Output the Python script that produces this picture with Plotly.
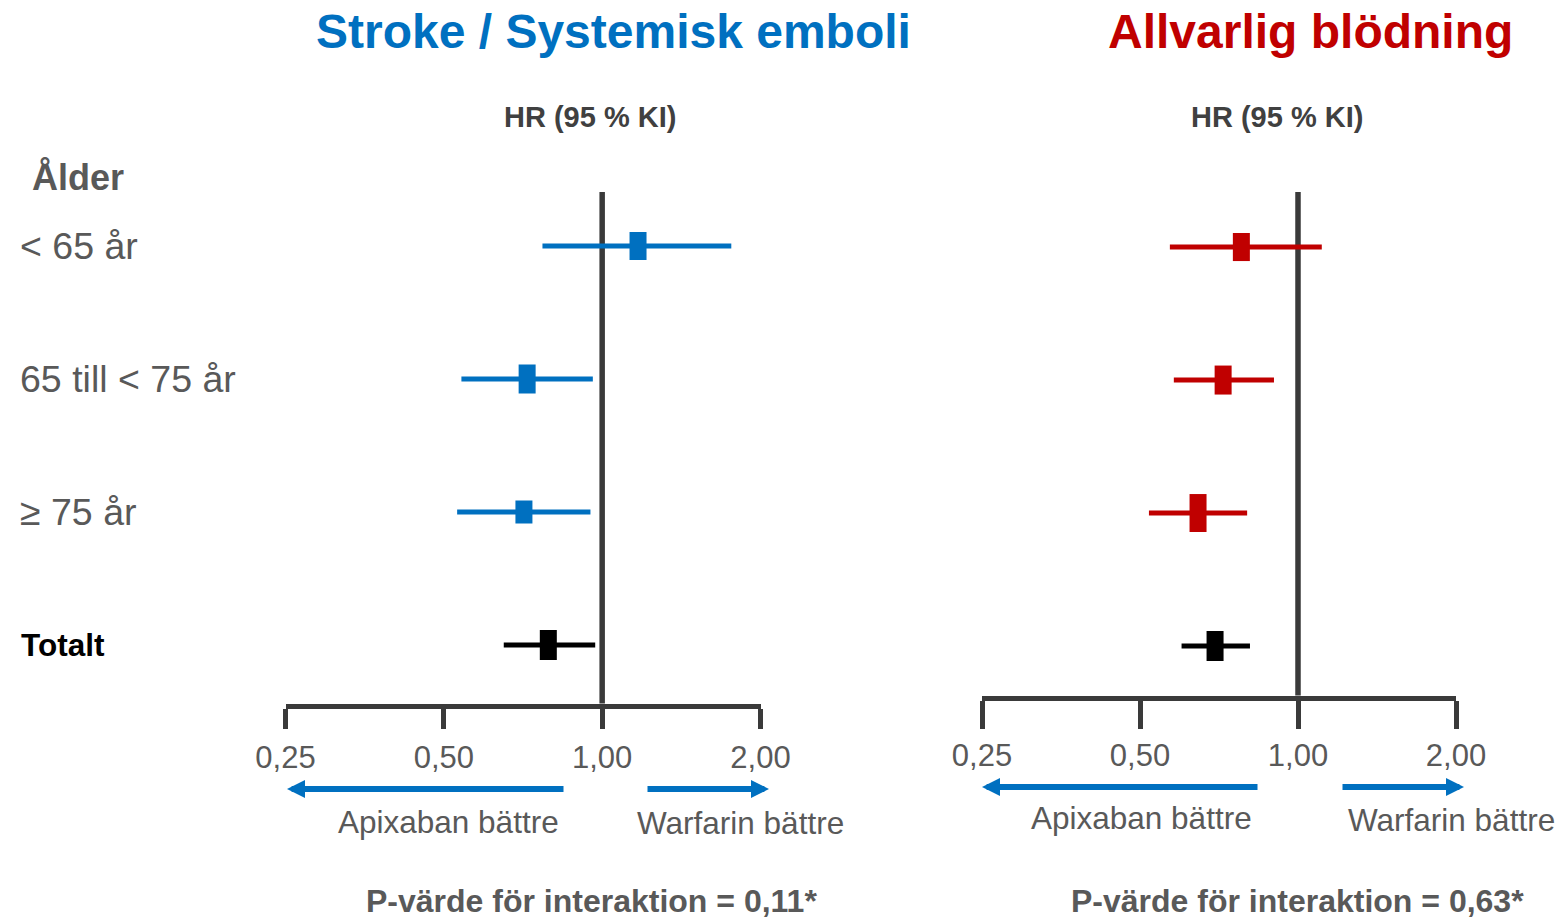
import plotly.graph_objects as go
import math

# ---------------- data ----------------
rows = ["< 65 år", "65 till < 75 år", "≥ 75 år", "Totalt"]
row_idx = [3, 2, 1, 0]

stroke_hr = [1.17, 0.72, 0.71, 0.79]
stroke_lo = [0.77, 0.54, 0.53, 0.65]
stroke_hi = [1.76, 0.96, 0.95, 0.97]

bleed_hr = [0.78, 0.72, 0.645, 0.695]
bleed_lo = [0.57, 0.58, 0.52, 0.60]
bleed_hi = [1.11, 0.90, 0.80, 0.81]

tick_vals = [0.25, 0.5, 1.0, 2.0]
tick_text = ["0,25", "0,50", "1,00", "2,00"]

titles = ["Stroke / Systemisk emboli", "Allvarlig blödning"]
pvalues = ["P-värde för interaktion = 0,11*", "P-värde för interaktion = 0,63*"]

# ---------------- styles ----------------
W, H = 1562, 919
FONT = "Arial, Liberation Sans, sans-serif"
BLUE = "#0070C0"
RED = "#C00000"
AXC = "#3a3a3a"
GRAY = "#595959"
left_colors = [BLUE, BLUE, BLUE, "#000000"]
right_colors = [RED, RED, RED, "#000000"]
left_heights = [28, 29, 23, 30]
right_heights = [28, 29, 38, 30]
MARK_W = 17


def px(x):
    return x / W


def py(y):
    return 1 - y / H


fig = go.Figure()


def add_panel(hr, lo, hi, colors, heights, xa, ya):
    # CI lines
    for i in range(len(rows)):
        fig.add_trace(go.Scatter(
            x=[lo[i], hi[i]], y=[row_idx[i], row_idx[i]], mode="lines",
            line=dict(color=colors[i], width=5), xaxis=xa, yaxis=ya,
            showlegend=False, hoverinfo="skip"))
    # point estimates (rectangles)
    for i in range(len(rows)):
        fig.add_trace(go.Scatter(
            x=[hr[i]], y=[row_idx[i]], mode="markers",
            marker=dict(symbol="line-ns", size=heights[i] / 1.4,
                        line=dict(color=colors[i], width=MARK_W), color=colors[i]),
            xaxis=xa, yaxis=ya, showlegend=False,
            hovertext=f"{rows[i]}: {hr[i]} ({lo[i]}–{hi[i]})", hoverinfo="text"))


add_panel(stroke_hr, stroke_lo, stroke_hi, left_colors, left_heights, "x", "y")
add_panel(bleed_hr, bleed_lo, bleed_hi, right_colors, right_heights, "x2", "y2")

xcommon = dict(type="log", range=[math.log10(0.25), math.log10(2.0)],
               tickvals=tick_vals, ticktext=tick_text,
               showline=True, linewidth=5, linecolor=AXC,
               ticks="outside", tickwidth=5, tickcolor=AXC,
               tickfont=dict(family=FONT, size=31, color=GRAY),
               showgrid=False, zeroline=False, fixedrange=True, automargin=False)
ycommon = dict(showgrid=False, zeroline=False, showticklabels=False,
               showline=False, fixedrange=True, automargin=False)

fig.update_layout(
    width=W, height=H,
    margin=dict(l=0, r=0, t=0, b=0, autoexpand=False),
    paper_bgcolor="white", plot_bgcolor="rgba(0,0,0,0)",
    font=dict(family=FONT, color=GRAY),
    showlegend=False,
    xaxis=dict(domain=[px(285.5), px(760.5)], anchor="y", ticklen=20, ticklabelstandoff=2, **xcommon),
    yaxis=dict(domain=[py(703.5), py(192)], range=[-0.44, 3.406], anchor="x", **ycommon),
    xaxis2=dict(domain=[px(982), px(1456)], anchor="y2", ticklen=28, ticklabelstandoff=0, **xcommon),
    yaxis2=dict(domain=[py(695.5), py(192)], range=[-0.372, 3.414], anchor="x2", **ycommon),
)

# reference lines at HR = 1
for xr, yr in [("x", "y domain"), ("x2", "y2 domain")]:
    fig.add_shape(type="line", xref=xr, yref=yr, x0=1, x1=1, y0=0, y1=1,
                  line=dict(color=AXC, width=5.5), layer="below")

ann = []


def text(x, y, s, size, color=GRAY, bold=False, xanchor="center", xref="paper", yref="paper"):
    ann.append(dict(x=x, y=y, xref=xref, yref=yref, text=f"<b>{s}</b>" if bold else s,
                    showarrow=False, xanchor=xanchor, yanchor="middle",
                    font=dict(family=FONT, size=size, color=color)))


text(px(613), py(31), titles[0], 48, BLUE, True)
text(px(1310), py(31), titles[1], 48, RED, True)
text(px(590), py(117), "HR (95 % KI)", 29, "#404040", True)
text(px(1277), py(117), "HR (95 % KI)", 29, "#404040", True)
text(px(30), py(177), "Ålder", 36, GRAY, True, "left")
for i, r in enumerate(rows):
    if r == "Totalt":
        text(px(19), row_idx[i], r, 31.5, "#000000", True, "left", yref="y")
    else:
        text(px(18), row_idx[i], r, 37.5, GRAY, False, "left", yref="y")

text(px(449), py(822), "Apixaban bättre", 31.5)
text(px(740), py(823), "Warfarin bättre", 31.5)
text(px(1141), py(818), "Apixaban bättre", 31.5)
text(px(1451), py(820), "Warfarin bättre", 31.5)
text(px(591), py(901), pvalues[0], 32, GRAY, True)
text(px(1297), py(901), pvalues[1], 32, GRAY, True)

# direction arrows
for tip, tail, yy in [(287, 565, 789), (769, 646, 789), (982, 1259, 787), (1464, 1341, 787)]:
    ann.append(dict(x=px(tip), y=py(yy), xref="paper", yref="paper", text="",
                    showarrow=True, ax=tail - tip, ay=0, arrowhead=2, arrowsize=0.6,
                    arrowwidth=6, arrowcolor=BLUE, standoff=0))

fig.update_layout(annotations=ann)
fig.write_html("out.html")
